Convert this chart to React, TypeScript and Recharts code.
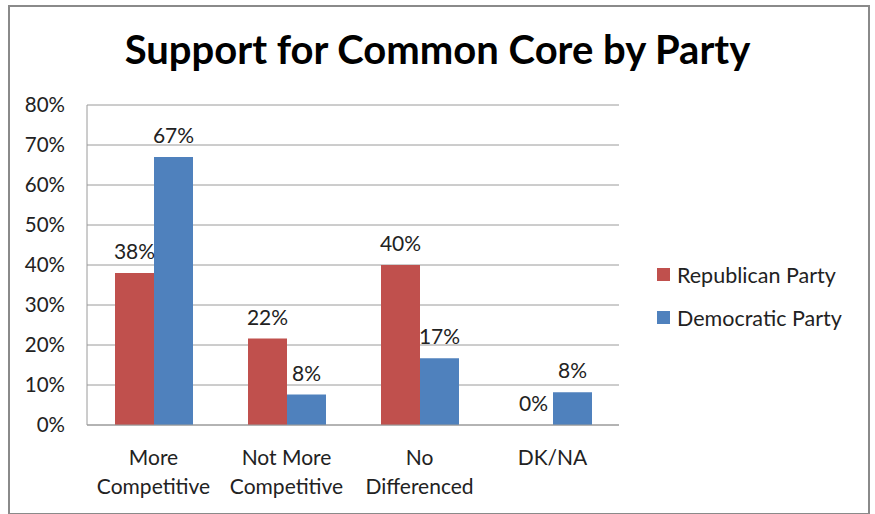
import React from "react";
import { BarChart, Bar, XAxis, YAxis, CartesianGrid, Legend, LabelList } from "recharts";

const categories = ["More\nCompetitive", "Not More\nCompetitive", "No\nDifferenced", "DK/NA"];
const republican = [38, 21.6, 40, 0];
const democratic = [67, 7.6, 16.7, 8.2];
const yTicks = [0, 10, 20, 30, 40, 50, 60, 70, 80];
const seriesNames = ["Republican Party", "Democratic Party"];
const colors = ["#C0504D", "#4F81BD"];

const data = categories.map((c, i) => ({ name: c, rep: republican[i], dem: democratic[i] }));

const FONT = "Lato, 'Open Sans', sans-serif";

const CatTick = (props: any) => {
  const { x, y, payload } = props;
  const lines = String(payload.value).split("\n");
  return (
    <g transform={`translate(${x},${y})`}>
      {lines.map((l: string, i: number) => (
        <text key={i} x={0} y={32 + i * 29} textAnchor="middle" fill="#222" fontSize={21} fontFamily={FONT}>
          {l}
        </text>
      ))}
    </g>
  );
};

const fmt = (v: any) => `${Math.round(Number(v))}%`;

const ValueLabel = (props: any) => {
  const { x, y, width, value } = props;
  if (value === undefined || value === null) return null;
  return (
    <text x={Number(x) + Number(width) / 2} y={Number(y) - 14} textAnchor="middle" fill="#222" fontSize={21} fontFamily={FONT}>
      {fmt(value)}
    </text>
  );
};

// Democratic labels; also draws the label for a zero-height Republican bar beside it
const DemLabel = (props: any) => {
  const { x, y, width, height, value, index } = props;
  const cx = Number(x) + Number(width) / 2;
  const base = Number(y) + Number(height);
  const repVal = typeof index === "number" ? republican[index] : undefined;
  return (
    <g>
      <text x={cx} y={Number(y) - 14} textAnchor="middle" fill="#222" fontSize={21} fontFamily={FONT}>
        {fmt(value)}
      </text>
      {repVal === 0 ? (
        <text x={cx - Number(width)} y={base - 14} textAnchor="middle" fill="#222" fontSize={21} fontFamily={FONT}>
          {fmt(repVal)}
        </text>
      ) : null}
    </g>
  );
};

const LegendContent = () => (
  <div style={{ fontFamily: FONT, fontSize: 21.5, color: "#222" }}>
    {seriesNames.map((n, i) => (
      <div key={n} style={{ display: "flex", alignItems: "center", height: 43 }}>
        <span style={{ display: "inline-block", width: 13, height: 13, background: colors[i], marginRight: 7 }} />
        <span>{n}</span>
      </div>
    ))}
  </div>
);

export default function App() {
  return (
    <div style={{ position: "absolute", left: 0, top: 0, width: 875, height: 514, background: "#fff" }}>
      <div
        style={{
          position: "absolute",
          left: 8,
          top: 5,
          width: 858,
          height: 506,
          border: "2px solid #8a8a8a",
          boxSizing: "content-box",
        }}
      />
      <div
        style={{
          position: "absolute",
          left: 0,
          top: 23,
          width: 875,
          textAlign: "center",
          fontFamily: FONT,
          fontWeight: 700,
          fontSize: 40,
          color: "#000",
          lineHeight: "52px",
        }}
      >
        Support for Common Core by Party
      </div>
      <div style={{ position: "absolute", left: 0, top: 0 }}>
        <BarChart
          width={875}
          height={514}
          data={data}
          margin={{ top: 105, right: 256, bottom: 0, left: 0 }}
          barGap={0}
          barCategoryGap={28}
        >
          <CartesianGrid vertical={false} stroke="#9a9a9a" strokeWidth={1} />
          <XAxis
            dataKey="name"
            height={89}
            tickLine={false}
            axisLine={{ stroke: "#9a9a9a" }}
            tick={<CatTick />}
            interval={0}
          />
          <YAxis
            width={87}
            domain={[0, 80]}
            ticks={yTicks}
            tickFormatter={(v: number) => `${v}%`}
            tickLine={false}
            axisLine={{ stroke: "#9a9a9a" }}
            tickMargin={16}
            tick={{ fill: "#222", fontSize: 20.5, fontFamily: FONT }}
          />
          <Legend
            layout="vertical"
            align="center"
            verticalAlign="middle"
            wrapperStyle={{ left: 657, top: 253, width: 210 }}
            content={<LegendContent />}
          />
          <Bar dataKey="rep" name={seriesNames[0]} fill={colors[0]} isAnimationActive={false}>
            <LabelList dataKey="rep" content={<ValueLabel />} />
          </Bar>
          <Bar dataKey="dem" name={seriesNames[1]} fill={colors[1]} isAnimationActive={false}>
            <LabelList dataKey="dem" content={<DemLabel />} />
          </Bar>
        </BarChart>
      </div>
    </div>
  );
}
